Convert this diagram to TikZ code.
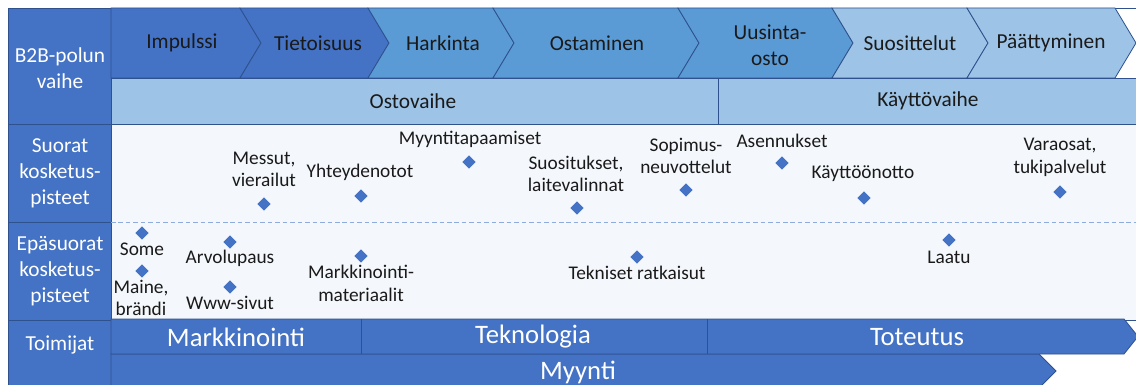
\documentclass[tikz,border=0pt]{standalone}
\usepackage{fontspec}
\setmainfont{Carlito}
\usetikzlibrary{shapes.geometric}
\definecolor{dkblue}{HTML}{4472C4}
\definecolor{mdblue}{HTML}{5B9BD5}
\definecolor{ltblue}{HTML}{9DC3E6}
\definecolor{edgec}{HTML}{2F528F}
\definecolor{bodyfill}{HTML}{F4F7FB}
\definecolor{dashc}{HTML}{8FAADC}
\definecolor{txt}{HTML}{1A1A1A}
\begin{document}
\begin{tikzpicture}[x=0.75pt,y=-0.75pt,
  cell/.style={draw=edgec, line width=0.6pt},
  lefttxt/.style={text=white, font=\fontsize{16}{19.5}\selectfont, align=center, inner sep=0},
  headtxt/.style={text=txt, font=\fontsize{16}{19.5}\selectfont, align=center, inner sep=0},
  bodytxt/.style={text=txt, font=\fontsize{14.5}{17}\selectfont, align=center, inner sep=0},
  acttxt/.style={text=white, font=\fontsize{20}{24}\selectfont, inner sep=0},
  tpoint/.style={diamond, fill=dkblue, inner sep=0, minimum width=10pt, minimum height=10pt}]
\clip (0,0) rectangle (1136,385);
\fill[white] (0,0) rectangle (1136,385);
% left column
\draw[cell, fill=dkblue] (8,8) rectangle (111,124);
\draw[cell, fill=dkblue] (8,124) rectangle (111,222);
\draw[cell, fill=dkblue] (8,222) rectangle (111,320);
\draw[cell, fill=dkblue] (8,320) rectangle (111,390);
\node[lefttxt] (lh1) at (60,68.5) {B2B-polun\\vaihe};
\node[lefttxt] (lh2) at (60,173) {Suorat\\kosketus-\\pisteet};
\node[lefttxt] (lh3) at (60,271) {Epäsuorat\\kosketus-\\pisteet};
\node[lefttxt] (lh4) at (60,345) {Toimijat};
% header row
\draw[cell, fill=white] (111,8) rectangle (1140,78);
\draw[cell, fill=dkblue] (111,8) -- (240,8) -- (261,43) -- (240,78) -- (111,78) -- cycle;
\draw[cell, fill=dkblue] (240,8) -- (368,8) -- (389,43) -- (368,78) -- (240,78) -- (261,43) -- cycle;
\draw[cell, fill=mdblue] (368,8) -- (493,8) -- (514,43) -- (493,78) -- (368,78) -- (389,43) -- cycle;
\draw[cell, fill=mdblue] (493,8) -- (678,8) -- (699,43) -- (678,78) -- (493,78) -- (514,43) -- cycle;
\draw[cell, fill=mdblue] (678,8) -- (832,8) -- (853,43) -- (832,78) -- (678,78) -- (699,43) -- cycle;
\draw[cell, fill=ltblue] (832,8) -- (967,8) -- (988,43) -- (967,78) -- (832,78) -- (853,43) -- cycle;
\draw[cell, fill=ltblue] (967,8) -- (1115,8) -- (1136,43) -- (1115,78) -- (967,78) -- (988,43) -- cycle;
\node[headtxt] (c1) at (182,43) {Impulssi};
\node[headtxt] (c2) at (318,43) {Tietoisuus};
\node[headtxt] (c3) at (443,43) {Harkinta};
\node[headtxt] (c4) at (597,43) {Ostaminen};
\node[headtxt] (c5) at (770,45) {Uusinta-\\osto};
\node[headtxt] (c6) at (910,43) {Suosittelut};
\node[headtxt] (c7) at (1051,43) {Päättyminen};
% phase band
\draw[cell, fill=ltblue] (111,78) rectangle (718,124);
\draw[cell, fill=ltblue] (718,78) rectangle (1140,124);
\node[headtxt] (p1) at (413,101) {Ostovaihe};
\node[headtxt] (p2) at (928,101) {Käyttövaihe};
% body
\draw[cell, fill=bodyfill] (111,124) rectangle (1140,320);
\draw[dashc, line width=0.75pt, dash pattern=on 3.4pt off 2.2pt] (111,222) -- (1136,222);
% direct touchpoints
\node[bodytxt] (t1) at (264,169.5) {Messut,\\vierailut};
\node[tpoint] (d1) at (264,204) {};
\node[bodytxt] (t2) at (360,172) {Yhteydenotot};
\node[tpoint] (d2) at (361,196) {};
\node[bodytxt] (t3) at (470,139) {Myyntitapaamiset};
\node[tpoint] (d3) at (469,162) {};
\node[bodytxt] (t4) at (576,174) {Suositukset,\\laitevalinnat};
\node[tpoint] (d4) at (577,208) {};
\node[bodytxt] (t5) at (686,156) {Sopimus-\\neuvottelut};
\node[tpoint] (d5) at (686,190) {};
\node[bodytxt] (t6) at (782,141) {Asennukset};
\node[tpoint] (d6) at (782,163) {};
\node[bodytxt] (t7) at (863,174) {Käyttöönotto};
\node[tpoint] (d7) at (864,198) {};
\node[bodytxt] (t8) at (1060,157.5) {Varaosat,\\tukipalvelut};
\node[tpoint] (d8) at (1060,192) {};
% indirect touchpoints
\node[tpoint] (d9) at (142,233) {};
\node[bodytxt] (t9) at (142,249) {Some};
\node[tpoint] (d10) at (142,271) {};
\node[bodytxt] (t10) at (141,298) {Maine,\\brändi};
\node[tpoint] (d11) at (230,242) {};
\node[bodytxt] (t11) at (230,258) {Arvolupaus};
\node[tpoint] (d12) at (230,287) {};
\node[bodytxt] (t12) at (230,303) {Www-sivut};
\node[tpoint] (d13) at (361,256) {};
\node[bodytxt] (t13) at (361,283.5) {Markkinointi-\\materiaalit};
\node[tpoint] (d14) at (637,257) {};
\node[bodytxt] (t14) at (637,273) {Tekniset ratkaisut};
\node[tpoint] (d15) at (949,240) {};
\node[bodytxt] (t15) at (949,257) {Laatu};
% actors
\draw[cell, fill=dkblue] (111,354) -- (1039,354) -- (1056,371) -- (1039,388) -- (111,388) -- cycle;
\draw[cell, fill=dkblue] (111,319) -- (1124,319) -- (1138,336.5) -- (1124,354) -- (111,354) -- cycle;
\draw[cell] (361,319) -- (361,354);
\draw[cell] (707,319) -- (707,354);
\node[acttxt] (a1) at (236,337) {Markkinointi};
\node[acttxt] (a2) at (533,337) {Teknologia};
\node[acttxt] (a3) at (917,337) {Toteutus};
\node[acttxt] (a4) at (578,372) {Myynti};
\end{tikzpicture}
\end{document}
